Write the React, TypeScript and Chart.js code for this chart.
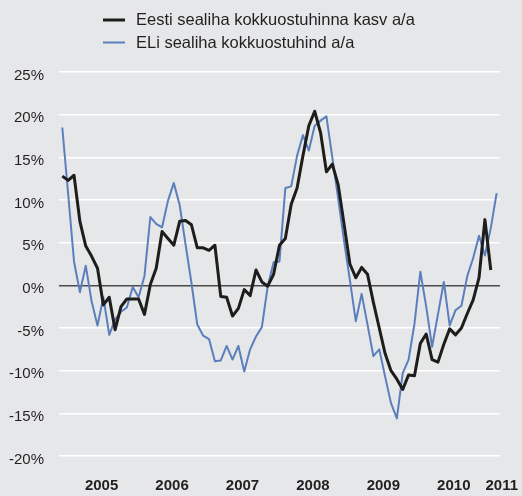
import React, { useEffect, useRef } from "react";
import { Chart, registerables } from "chart.js";

Chart.register(...registerables);

// Monthly series, first point = December 2004
const START_YEAR = 2004;
const START_MONTH = 12;

const SERIES_LABELS = [
  "Eesti sealiha kokkuostuhinna kasv a/a",
  "ELi sealiha kokkuostuhind a/a",
];

const ESTONIA = [
  12.8, 12.3, 12.9, 7.5, 4.6, 3.4, 2.0, -2.3, -1.4, -5.2,
  -2.5, -1.6, -1.6, -1.6, -3.4, 0.1, 2.0, 6.3, 5.5, 4.7,
  7.5, 7.6, 7.1, 4.4, 4.4, 4.1, 4.7, -1.3, -1.4, -3.6,
  -2.7, -0.5, -1.2, 1.8, 0.4, -0.1, 1.3, 4.7, 5.5, 9.5,
  11.4, 15.2, 18.7, 20.4, 17.9, 13.3, 14.2, 11.8, 7.2, 2.5,
  0.9, 2.1, 1.3, -2.0, -5.0, -8.0, -10.0, -11.0, -12.2, -10.5,
  -10.6, -6.8, -5.7, -8.7, -9.0, -6.9, -5.1, -5.8, -5.0, -3.3,
  -1.7, 0.9, 7.7, 1.8,
];

const EU = [
  18.5, 10.7, 2.8, -0.8, 2.3, -1.9, -4.7, -1.4, -5.8, -4.0,
  -3.1, -2.6, -0.2, -1.4, 1.1, 8.0, 7.2, 6.8, 9.9, 12.0,
  9.4, 4.8, 0.3, -4.6, -5.9, -6.3, -8.9, -8.8, -7.1, -8.7,
  -7.1, -10.1, -7.5, -6.0, -4.9, -0.1, 2.7, 2.8, 11.4, 11.6,
  15.2, 17.6, 15.8, 18.7, 19.3, 19.8, 15.0, 10.2, 5.2, 0.6,
  -4.2, -1.0, -4.6, -8.3, -7.5, -10.7, -13.8, -15.6, -10.3, -8.7,
  -4.5, 1.6, -2.5, -7.2, -3.4, 0.4, -4.7, -2.9, -2.4, 1.1,
  3.2, 5.8, 3.5, 6.7, 10.8,
];

const YEAR_LABELS = ["2005", "2006", "2007", "2008", "2009", "2010", "2011"];
const Y_MIN = -20;
const Y_MAX = 25;
const Y_STEP = 5;

const BG = "#e6e7e9";
const TEXT = "#231f20";
const BLACK = "#1d1d1b";
const BLUE = "#5b7fbd";
const FONT = "'Liberation Sans', Arial, Helvetica, sans-serif";

const X_MIN = -0.56;
const X_MAX = 74.57;

function monthIndex(year: number, month: number) {
  return (year - START_YEAR) * 12 + (month - START_MONTH);
}

const yearTickValues = YEAR_LABELS.map((y) => {
  const center = monthIndex(Number(y), 1) + 5.7;
  return Math.min(center, X_MAX + 0.3);
});

const bgPlugin = {
  id: "bg",
  beforeDraw(chart: any) {
    const ctx = chart.ctx;
    ctx.save();
    ctx.fillStyle = BG;
    ctx.fillRect(0, 0, chart.width, chart.height);
    ctx.restore();
  },
};

const legendPlugin = {
  id: "customLegend",
  afterDraw(chart: any) {
    const ctx = chart.ctx;
    const dsets = chart.data.datasets;
    ctx.save();
    dsets.forEach((ds: any, i: number) => {
      const y = 20 + i * 22.5;
      ctx.strokeStyle = ds.borderColor;
      ctx.lineWidth = ds.borderWidth;
      ctx.beginPath();
      ctx.moveTo(103, y);
      ctx.lineTo(125, y);
      ctx.stroke();
      ctx.fillStyle = TEXT;
      ctx.font = `16.5px ${FONT}`;
      ctx.textBaseline = "middle";
      ctx.textAlign = "left";
      ctx.fillText(ds.label, 136, y + 0.5);
    });
    ctx.restore();
  },
};

export default function App() {
  const ref = useRef<HTMLCanvasElement>(null);

  useEffect(() => {
    document.body.style.margin = "0";
    document.body.style.background = BG;
    const canvas = ref.current;
    if (!canvas) return;
    const chart = new Chart(canvas, {
      type: "line",
      data: {
        datasets: [
          {
            label: SERIES_LABELS[0],
            data: ESTONIA.map((v, i) => ({ x: i, y: v })),
            borderColor: BLACK,
            borderWidth: 3,
            pointRadius: 0,
            tension: 0,
            borderJoinStyle: "round",
          },
          {
            label: SERIES_LABELS[1],
            data: EU.map((v, i) => ({ x: i, y: v })),
            borderColor: BLUE,
            borderWidth: 2,
            pointRadius: 0,
            tension: 0,
            borderJoinStyle: "round",
          },
        ],
      },
      options: {
        animation: false,
        responsive: false,
        events: [],
        layout: { padding: { top: 72, right: 22, left: 0, bottom: 0 } },
        plugins: {
          legend: { display: false },
          tooltip: { enabled: false },
        },
        scales: {
          x: {
            type: "linear",
            min: X_MIN,
            max: X_MAX,
            grid: { display: false, drawTicks: false },
            border: { display: false },
            afterBuildTicks: (scale: any) => {
              scale.ticks = yearTickValues.map((v) => ({ value: v }));
            },
            afterFit: (scale: any) => {
              scale.height = 40;
              scale.paddingLeft = 0;
              scale.paddingRight = 0;
            },
            ticks: {
              autoSkip: false,
              maxRotation: 0,
              padding: 21,
              color: TEXT,
              font: { family: FONT, size: 15, weight: "bold" },
              callback: (_v: any, i: number) => YEAR_LABELS[i],
            },
          },
          y: {
            min: Y_MIN,
            max: Y_MAX,
            border: { display: false },
            grid: {
              drawTicks: false,
              lineWidth: 1.5,
              color: (c: any) => (c.tick && c.tick.value === 0 ? "#4a4a4a" : "#ffffff"),
            },
            afterFit: (scale: any) => {
              scale.width = 59;
              scale.paddingTop = 0;
              scale.paddingBottom = 0;
            },
            ticks: {
              stepSize: Y_STEP,
              padding: 15,
              labelOffset: 3.5,
              color: TEXT,
              font: { family: FONT, size: 15 },
              callback: (v: any) => `${v}%`,
            },
          },
        },
      },
      plugins: [bgPlugin, legendPlugin],
    } as any);
    return () => chart.destroy();
  }, []);

  return (
    <div style={{ width: 522, height: 496, background: BG }}>
      <canvas ref={ref} width={522} height={496} style={{ display: "block" }} />
    </div>
  );
}
